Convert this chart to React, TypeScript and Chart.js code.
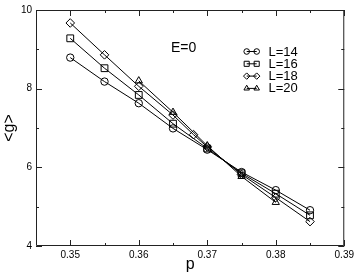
import React, { useEffect, useRef } from 'react';
import { Chart, registerables } from 'chart.js';
import { drawPoint } from 'chart.js/helpers';

Chart.register(...registerables);

// ---- data ----
const seriesLabels = ['L=14', 'L=16', 'L=18', 'L=20'];
const pL14 = [0.35, 0.355, 0.36, 0.365, 0.37, 0.375, 0.38, 0.385];
const gL14 = [8.79, 8.18, 7.63, 6.99, 6.45, 5.88, 5.42, 4.91];
const pL16 = [0.35, 0.355, 0.36, 0.365, 0.37, 0.375, 0.38, 0.385];
const gL16 = [9.28, 8.52, 7.84, 7.11, 6.48, 5.85, 5.33, 4.78];
const pL18 = [0.35, 0.355, 0.36, 0.365, 0.368, 0.37, 0.375, 0.38, 0.385];
const gL18 = [9.67, 8.86, 8.06, 7.33, 6.83, 6.52, 5.82, 5.23, 4.62];
const pL20 = [0.36, 0.365, 0.37, 0.375, 0.38];
const gL20 = [8.2, 7.4, 6.55, 5.77, 5.11];

const xMajor = [0.35, 0.36, 0.37, 0.38, 0.39];
const xMinor = [0.355, 0.365, 0.375, 0.385];
const yMajor = [4, 6, 8, 10];
const yMinor = [5, 7, 9];
const annotationText = 'E=0';
const xTitle = 'p';
const yTitle = '<g>';

const xs = [pL14, pL16, pL18, pL20];
const ys = [gL14, gL16, gL18, gL20];
const styles = ['circle', 'rect', 'rectRot', 'triangle'];
const radii = [3.7, 4.8, 4.3, 4.2];
const legendRadii = [2.8, 3.6, 3.2, 3.2];

const FONT = '"Liberation Sans", Arial, Helvetica, sans-serif';

const framePlugin = {
  id: 'frameTicks',
  beforeDatasetsDraw(chart: any) {
    const { ctx, chartArea } = chart;
    const { left, right, top, bottom } = chartArea;
    const xs = chart.scales.x;
    const ysc = chart.scales.y;
    ctx.save();
    ctx.strokeStyle = '#222';
    ctx.lineWidth = 1;
    ctx.beginPath();
    ctx.rect(left + 0.5, top + 0.5, right - left - 1, bottom - top - 1);
    ctx.stroke();
    ctx.beginPath();
    const tick = (vals: number[], len: number) => {
      vals.forEach((v) => {
        const px = Math.round(xs.getPixelForValue(v)) + 0.5;
        ctx.moveTo(px, bottom);
        ctx.lineTo(px, bottom - len);
        ctx.moveTo(px, top);
        ctx.lineTo(px, top + len);
      });
    };
    const ytick = (vals: number[], len: number) => {
      vals.forEach((v) => {
        const py = Math.round(ysc.getPixelForValue(v)) + 0.5;
        ctx.moveTo(left, py);
        ctx.lineTo(left + len, py);
        ctx.moveTo(right, py);
        ctx.lineTo(right - len, py);
      });
    };
    tick(xMajor, 6);
    tick(xMinor, 3);
    ytick(yMajor, 6);
    ytick(yMinor, 3);
    ctx.stroke();
    ctx.restore();
  },
  afterDraw(chart: any) {
    const { ctx } = chart;
    ctx.save();
    ctx.fillStyle = '#000';
    ctx.textBaseline = 'middle';
    ctx.textAlign = 'left';
    ctx.font = `14px ${FONT}`;
    ctx.fillText(annotationText, 171, 48);
    // legend
    ctx.font = `13px ${FONT}`;
    seriesLabels.forEach((lab, i) => {
      const y = 51.5 + i * 12.3;
      ctx.strokeStyle = '#000';
      ctx.lineWidth = 1;
      ctx.beginPath();
      ctx.moveTo(246.7, y);
      ctx.lineTo(256.7, y);
      ctx.stroke();
      const opts = { pointStyle: styles[i], radius: legendRadii[i], borderWidth: 1, rotation: 0 };
      ctx.fillStyle = 'rgba(0,0,0,0)';
      drawPoint(ctx, opts as any, 246.7, y);
      drawPoint(ctx, opts as any, 256.7, y);
      ctx.fillStyle = '#000';
      ctx.fillText(lab, 268.5, y + 0.5);
    });
    ctx.restore();
  },
};

export default function App() {
  const ref = useRef<HTMLCanvasElement | null>(null);
  useEffect(() => {
    if (!ref.current) return;
    Chart.defaults.font.family = FONT;
    Chart.defaults.color = '#000';
    const datasets = seriesLabels.map((lab, i) => ({
      label: lab,
      data: xs[i].map((x, j) => ({ x, y: ys[i][j] })),
      borderColor: '#000',
      borderWidth: 1,
      backgroundColor: 'rgba(0,0,0,0)',
      pointStyle: styles[i],
      pointRadius: radii[i],
      pointBorderColor: '#000',
      pointBackgroundColor: 'rgba(0,0,0,0)',
      pointBorderWidth: 1,
      showLine: true,
      tension: 0,
    }));
    const chart = new Chart(ref.current, {
      type: 'scatter',
      data: { datasets },
      plugins: [framePlugin],
      options: {
        responsive: false,
        animation: false,
        devicePixelRatio: 1,
        layout: { padding: { top: 6, right: 11, left: 0, bottom: 0 } },
        plugins: { legend: { display: false }, tooltip: { enabled: false } },
        scales: {
          x: {
            type: 'linear',
            min: 0.345,
            max: 0.39,
            grid: { display: false, drawTicks: false },
            border: { display: false },
            afterBuildTicks: (s: any) => {
              s.ticks = xMajor.map((v) => ({ value: v }));
            },
            afterFit: (s: any) => {
              s.height = 29;
            },
            ticks: {
              padding: 3,
              color: '#000',
              font: { size: 10, family: FONT },
              maxRotation: 0,
              autoSkip: false,
              callback: (v: any) => Number(v).toFixed(2),
            },
            title: {
              display: true,
              text: xTitle,
              color: '#000',
              font: { size: 16, family: FONT },
              padding: { top: 0, bottom: 1 },
            },
          },
          y: {
            type: 'linear',
            min: 4,
            max: 10,
            grid: { display: false, drawTicks: false },
            border: { display: false },
            afterBuildTicks: (s: any) => {
              s.ticks = yMajor.map((v) => ({ value: v }));
            },
            afterFit: (s: any) => {
              s.width = 36;
            },
            ticks: {
              padding: 4,
              color: '#000',
              font: { size: 10, family: FONT },
              autoSkip: false,
              callback: (v: any) => String(v),
            },
            title: {
              display: true,
              text: yTitle,
              color: '#000',
              font: { size: 16, family: FONT },
              padding: { top: 0, bottom: 0 },
            },
          },
        },
      },
    } as any);
    return () => chart.destroy();
  }, []);
  return (
    <div style={{ position: 'absolute', left: 0, top: 0, width: 357, height: 275, background: '#fff' }}>
      <canvas ref={ref} width={357} height={275} style={{ display: 'block' }} />
    </div>
  );
}
